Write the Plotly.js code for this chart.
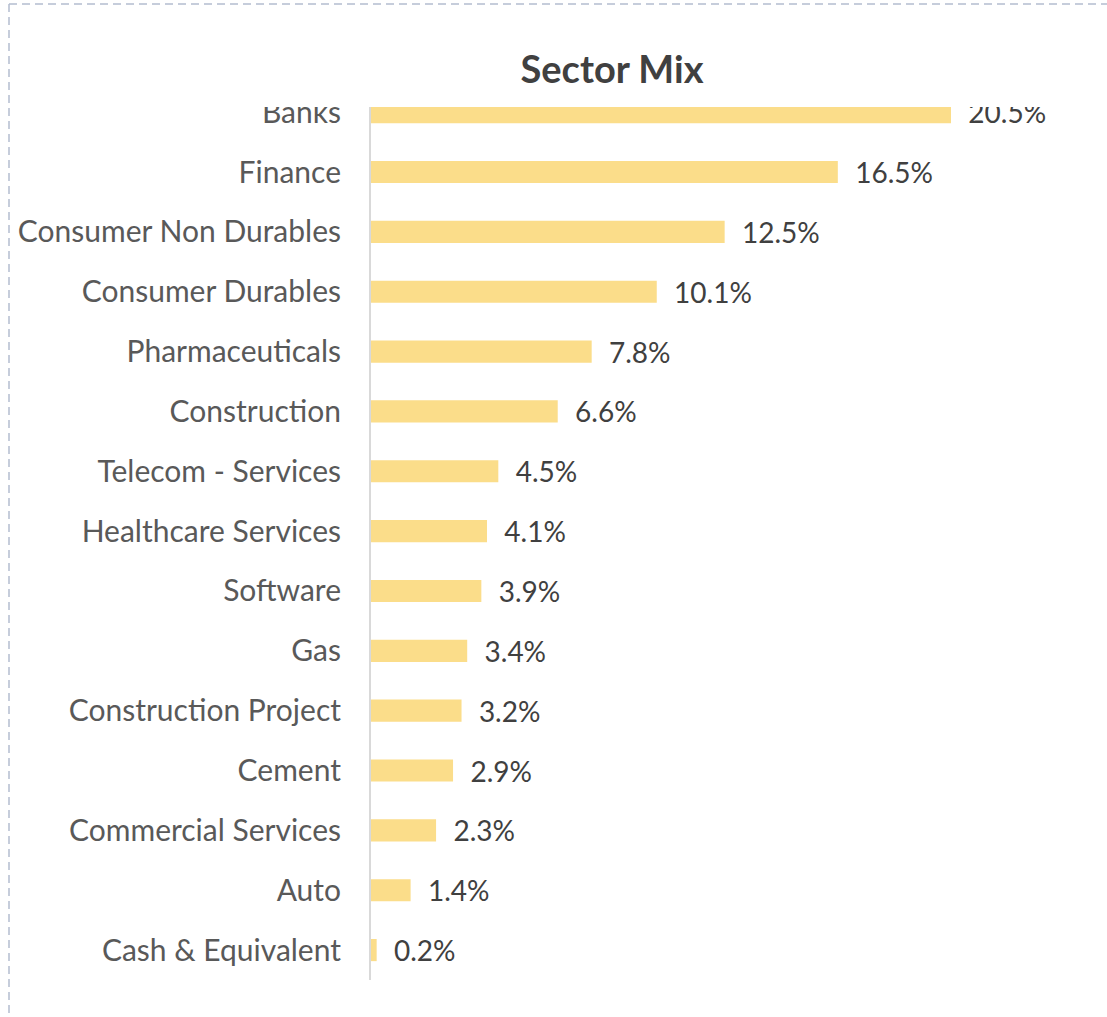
<!DOCTYPE html>
<html>
<head>
<meta charset="utf-8">
<script src="https://cdn.plot.ly/plotly-3.0.1.min.js"></script>
<style>html,body{margin:0;padding:0;background:#fff;}</style>
</head>
<body>
<div id="chart" style="width:1107px;height:1017px;"></div>
<script>
const sectors = ["Banks","Finance","Consumer Non Durables","Consumer Durables","Pharmaceuticals","Construction","Telecom - Services","Healthcare Services","Software","Gas","Construction Project","Cement","Commercial Services","Auto","Cash & Equivalent"];
const weights = [20.5,16.5,12.5,10.1,7.8,6.6,4.5,4.1,3.9,3.4,3.2,2.9,2.3,1.4,0.2];
const chartTitle = "Sector Mix";

const W = 1107, H = 1017;
const mL = 371, mR = 17, mT = 107, mB = 37;
const pw = W - mL - mR, ph = H - mT - mB;
const px = x => (x - mL) / pw;
const py = y => 1 - (y - mT) / ph;

const trace = {
  type: 'bar',
  orientation: 'h',
  y: sectors,
  x: weights,
  marker: {color: '#FBDD8A'},
  text: weights.map(v => '\u00a0\u00a0' + v.toFixed(1) + '%'),
  textposition: 'outside',
  constraintext: 'none',
  textfont: {family: 'Lato, sans-serif', size: 28, color: '#404040'},
  cliponaxis: false,
  hoverinfo: 'none'
};

const layout = {
  width: W, height: H,
  margin: {l: mL, r: mR, t: mT, b: mB, pad: 0},
  paper_bgcolor: '#fff', plot_bgcolor: '#fff',
  showlegend: false,
  bargap: 0.63,
  title: {text: '<b>' + chartTitle + '</b>', x: 612 / W, xref: 'container', xanchor: 'center',
          y: 1 - 70 / H, yref: 'container', yanchor: 'middle',
          font: {family: 'Lato, sans-serif', size: 38, color: '#404040'}},
  xaxis: {range: [0, pw / (580 / 20.5)], showgrid: false, zeroline: false,
          showline: false, showticklabels: false, ticks: '', fixedrange: true},
  yaxis: {type: 'category', categoryorder: 'array', categoryarray: sectors,
          range: [14.5, 14.5 - ph / 59.85], showgrid: false, zeroline: false,
          showline: true, linecolor: '#D9D9D9', linewidth: 2,
          ticks: '', ticklabelstandoff: 22,
          tickfont: {family: 'Lato, sans-serif', size: 30, color: '#595959'}, fixedrange: true},
  shapes: [
    {type: 'rect', xref: 'paper', yref: 'paper', layer: 'above',
     x0: px(20), x1: px(1100), y0: py(mT), y1: py(20),
     fillcolor: '#ffffff', line: {width: 0}},
    {type: 'line', xref: 'paper', yref: 'paper', layer: 'above',
     x0: px(9), x1: px(W + 5), y0: py(4), y1: py(4),
     line: {color: '#B4BDD0', width: 1.5, dash: '8px,5px'}},
    {type: 'line', xref: 'paper', yref: 'paper', layer: 'above',
     x0: px(9), x1: px(9), y0: py(4), y1: py(H + 5),
     line: {color: '#B4BDD0', width: 1.5, dash: '8px,5px'}}
  ]
};

Plotly.newPlot('chart', [trace], layout, {displayModeBar: false, staticPlot: true});
</script>
</body>
</html>
